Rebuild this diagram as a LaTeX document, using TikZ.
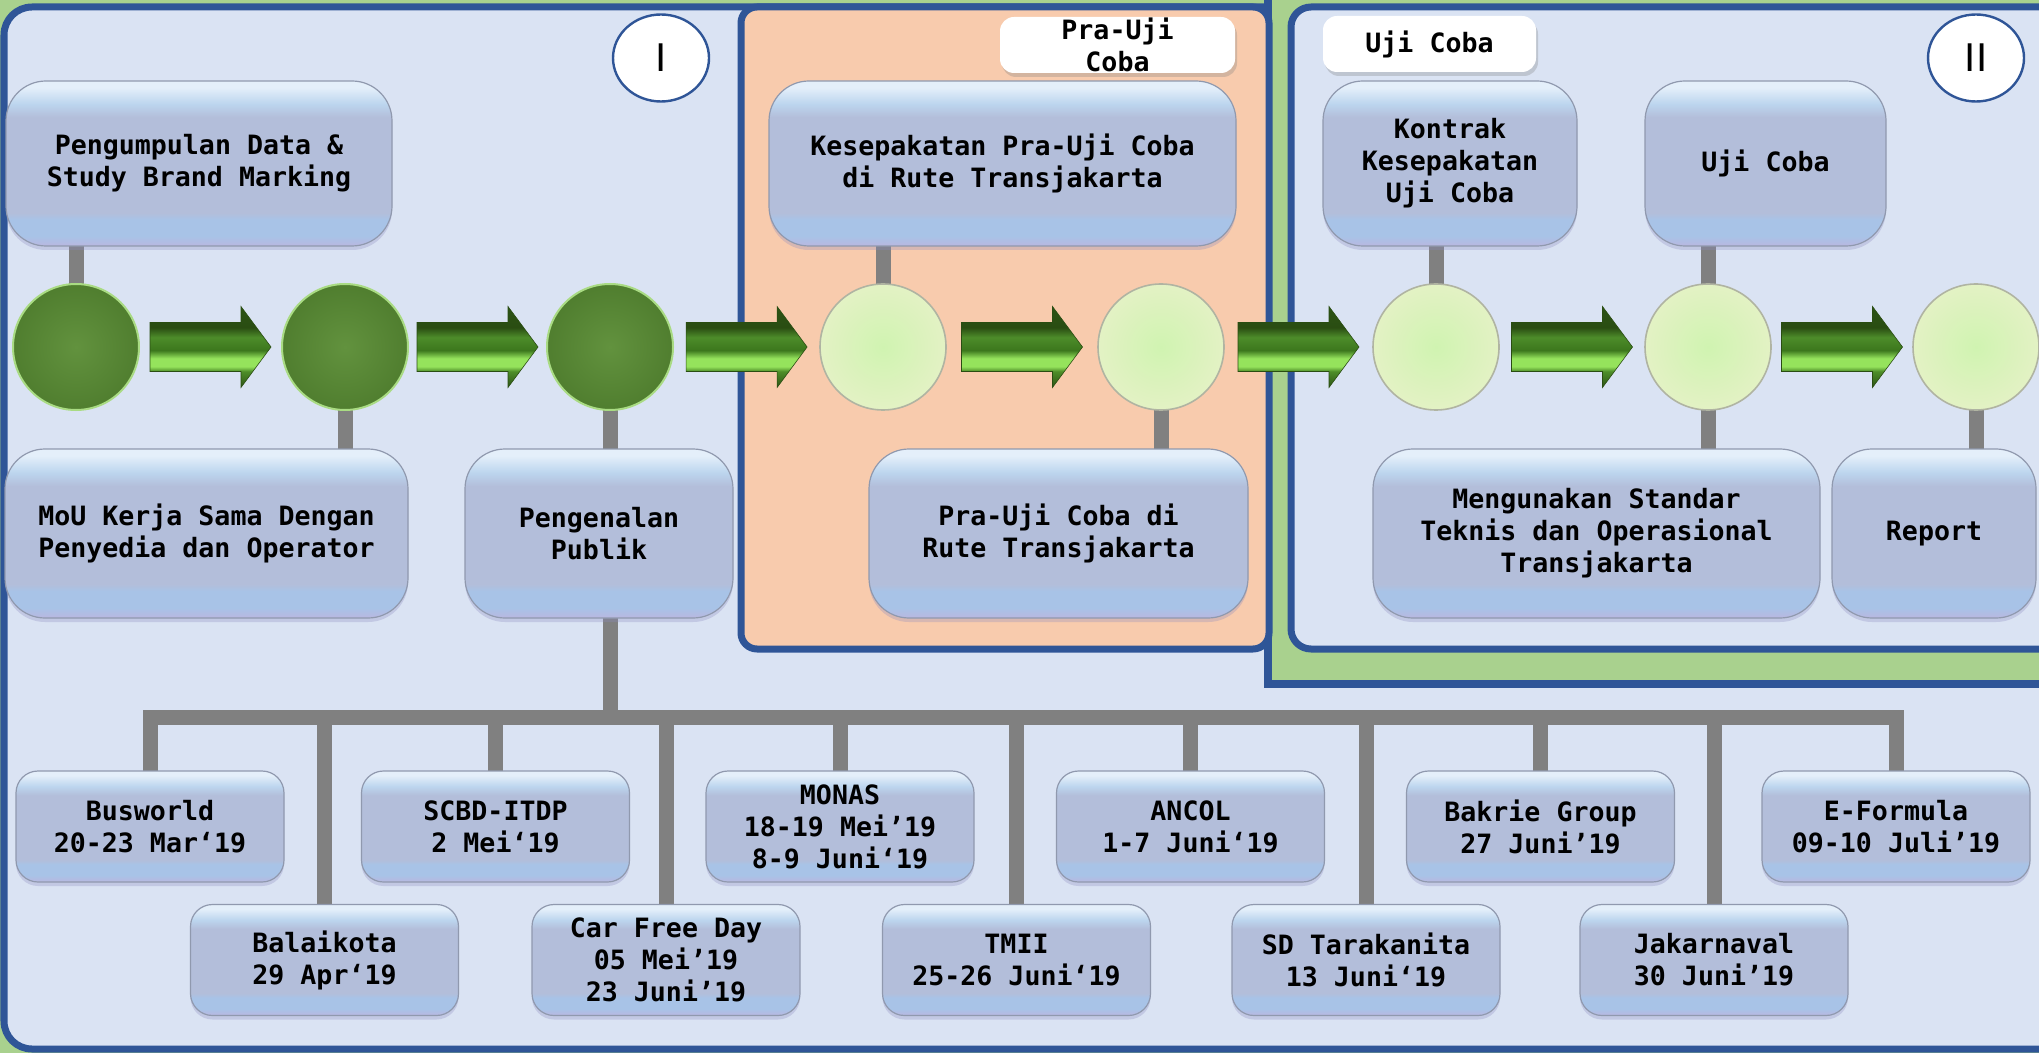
\documentclass[tikz,border=0pt]{standalone}
\usepackage{fontspec}
\usetikzlibrary{shapes.geometric,calc,shadows}
\newfontfamily\boxfont{DejaVu Sans Mono}
\newfontfamily\romfont{DejaVu Sans}
\newcommand\bxtxt{\boxfont\bfseries\fontsize{13.3}{16}\selectfont}
\definecolor{bgreen}{HTML}{A9D18E}
\definecolor{pblue}{HTML}{DAE3F3}
\definecolor{pborder}{HTML}{2F5597}
\definecolor{porange}{HTML}{F8CBAD}
\definecolor{connc}{HTML}{808080}
\definecolor{gedge}{HTML}{9099AE}
\definecolor{shadowc}{HTML}{8C8AC0}
\definecolor{gb0}{HTML}{E4EFFA}
\definecolor{gb1}{HTML}{BCD5EE}
\definecolor{gb2}{HTML}{B3BEDA}
\definecolor{gb3}{HTML}{A8C3E7}
\definecolor{gb4}{HTML}{B9B7E0}
\definecolor{ar0}{HTML}{2C5315}
\definecolor{ar1}{HTML}{4E8E29}
\definecolor{ar2}{HTML}{95E35C}
\definecolor{ar3}{HTML}{3C771D}
\definecolor{ar4}{HTML}{4D8C2A}
\definecolor{ar5}{HTML}{2A4D12}
\definecolor{dg1}{HTML}{62923E}
\definecolor{dg2}{HTML}{507E2F}
\definecolor{dgrim}{HTML}{A9DB83}
\definecolor{lg1}{HTML}{D0F3B1}
\definecolor{lg2}{HTML}{E3F2C4}
\definecolor{lgrim}{HTML}{B0B4A2}
\pgfdeclareverticalshading{glassbox}{100bp}{color(0bp)=(gb4); color(25bp)=(gb4); color(28bp)=(gb3); color(33bp)=(gb3); color(35bp)=(gb2); color(64bp)=(gb2); color(68bp)=(gb1); color(73bp)=(gb0); color(75bp)=(gb0); color(100bp)=(gb0)}
\pgfdeclareverticalshading{arrowsh}{100bp}{color(0bp)=(ar0); color(25bp)=(ar0); color(35bp)=(ar1); color(38bp)=(ar2); color(43bp)=(ar2); color(48bp)=(ar3); color(56bp)=(ar4); color(62bp)=(ar5); color(75bp)=(ar0); color(100bp)=(ar0)}
\pgfdeclarelayer{back}
\pgfsetlayers{back,main}
\tikzset{
  panel/.style={draw=pborder, line width=3.5pt},
  conn/.style={draw=connc, line width=7.5pt},
  gbox/.style={rectangle, rounded corners=20pt, shade, shading=glassbox, draw=gedge,
    line width=0.6pt, align=center, inner sep=0pt, font=\bxtxt, text=black,
    drop shadow={shadow xshift=0pt, shadow yshift=-2pt, opacity=0.3, fill=shadowc}},
  tallbox/.style={gbox, minimum height=82.5pt},
  evbox/.style={gbox, rounded corners=11pt, minimum width=134pt, minimum height=55.5pt},
  dcirc/.style={circle, minimum size=63pt, inner sep=0pt, inner color=dg1, outer color=dg2, draw=dgrim, line width=1pt},
  lcirc/.style={circle, minimum size=63pt, inner sep=0pt, inner color=lg1, outer color=lg2, draw=lgrim, line width=0.8pt},
  lbl/.style={rectangle, rounded corners=7pt, fill=white, align=center, inner sep=0pt, font=\bxtxt,
    minimum height=28pt, drop shadow={shadow xshift=1pt, shadow yshift=-2pt, opacity=0.3}},
  roman/.style={ellipse, draw=pborder, line width=1.2pt, fill=white, minimum width=48pt,
    minimum height=43.5pt, inner sep=0pt, font=\romfont\fontsize{19}{19}\selectfont},
  garrow/.pic={\path[shade, shading=arrowsh, draw=ar5, line width=0.3pt]
    (-30.25pt,-12.25pt) -- (15.25pt,-12.25pt) -- (15.25pt,-20.25pt) -- (30.25pt,0pt)
    -- (15.25pt,20.25pt) -- (15.25pt,12.25pt) -- (-30.25pt,12.25pt) -- cycle;}
}
\begin{document}
\begin{tikzpicture}[x=0.5pt,y=-0.5pt]
\useasboundingbox (0,0) rectangle (2039,1053);

% section labels
\node[roman] (r1) at (661,58) {I};
\node[roman] (r2) at (1976,58) {II};
\node[lbl, minimum width=117.5pt] (lb1) at (1117.5,45) {Pra-Uji\\Coba};
\node[lbl, minimum width=106.5pt] (lb2) at (1429.5,44) {Uji Coba};

% milestones
\node[dcirc] (c1) at (76,347) {};
\node[dcirc] (c2) at (345,347) {};
\node[dcirc] (c3) at (610,347) {};
\node[lcirc] (c4) at (883,347) {};
\node[lcirc] (c5) at (1161,347) {};
\node[lcirc] (c6) at (1436,347) {};
\node[lcirc] (c7) at (1708,347) {};
\node[lcirc] (c8) at (1976,347) {};

% upper boxes
\node[tallbox, minimum width=193pt] (pb) at (199,163.5) {Pengumpulan Data \&\\Study Brand Marking};
\node[tallbox, minimum width=233.5pt] (kb) at (1002.5,163.5) {Kesepakatan Pra-Uji Coba\\di Rute Transjakarta};
\node[tallbox, minimum width=127pt] (kt) at (1450,163.5) {Kontrak\\Kesepakatan\\Uji Coba};
\node[tallbox, minimum width=120.5pt] (uc) at (1765.5,163.5) {Uji Coba};

% lower boxes
\node[tallbox, minimum width=201.5pt, minimum height=84.5pt] (mou) at (206.5,533.5) {MoU Kerja Sama Dengan\\Penyedia dan Operator};
\node[tallbox, minimum width=134pt, minimum height=84.5pt] (pp) at (599,533.5) {Pengenalan\\Publik};
\node[tallbox, minimum width=189.5pt, minimum height=84.5pt] (pu) at (1058.5,533.5) {Pra-Uji Coba di\\Rute Transjakarta};
\node[tallbox, minimum width=223.5pt, minimum height=84.5pt] (mg) at (1596.5,533.5) {Mengunakan Standar\\Teknis dan Operasional\\Transjakarta};
\node[tallbox, minimum width=102pt, minimum height=84.5pt] (rp) at (1934,533.5) {Report};

% events
\node[evbox] (bw) at (150,826.5) {Busworld\\20-23 Mar‘19};
\node[evbox] (scbd) at (495.5,826.5) {SCBD-ITDP\\2 Mei‘19};
\node[evbox] (monas) at (840,826.5) {MONAS\\18-19 Mei’19\\8-9 Juni‘19};
\node[evbox] (ancol) at (1190.5,826.5) {ANCOL\\1-7 Juni‘19};
\node[evbox] (bakrie) at (1540.5,826.5) {Bakrie Group\\27 Juni’19};
\node[evbox] (ef) at (1896,826.5) {E-Formula\\09-10 Juli’19};
\node[evbox] (bk) at (324.5,960) {Balaikota\\29 Apr‘19};
\node[evbox] (cfd) at (666,960) {Car Free Day\\05 Mei’19\\23 Juni’19};
\node[evbox] (tmii) at (1016.5,960) {TMII\\25-26 Juni‘19};
\node[evbox] (sdt) at (1366,960) {SD Tarakanita\\13 Juni‘19};
\node[evbox] (jk) at (1714,960) {Jakarnaval\\30 Juni’19};

% block arrows between milestones
\pic at ($(c1.east)!0.5!(c2.west)$) {garrow};
\pic at ($(c2.east)!0.5!(c3.west)$) {garrow};
\pic at ($(c3.east)!0.5!(c4.west)$) {garrow};
\pic at ($(c4.east)!0.5!(c5.west)$) {garrow};
\pic at ($(c5.east)!0.5!(c6.west)$) {garrow};
\pic at ($(c6.east)!0.5!(c7.west)$) {garrow};
\pic at ($(c7.east)!0.5!(c8.west)$) {garrow};

\begin{pgfonlayer}{back}
  \fill[bgreen] (0,0) rectangle (2039,1053);
  \draw[panel, fill=pblue, rounded corners=14pt] (4,7) rectangle (2100,1049);
  \draw[draw=pborder, line width=4pt, fill=bgreen] (1268,-40) rectangle (2100,684);
  \draw[panel, fill=porange, rounded corners=8pt] (741,7) rectangle (1269,649);
  \draw[panel, fill=pblue, rounded corners=10pt] (1291,7) rectangle (2100,649);

  % vertical connectors
  \draw[conn] (c1.center) -- (c1.center |- pb.center);
  \draw[conn] (c2.center) -- (c2.center |- mou.center);
  \draw[conn] (c3.center) -- (c3.center |- pp.center);
  \draw[conn] (c4.center) -- (c4.center |- kb.center);
  \draw[conn] (c5.center) -- (c5.center |- pu.center);
  \draw[conn] (c6.center) -- (c6.center |- kt.center);
  \draw[conn] (c7.center) -- (c7.center |- uc.center);
  \draw[conn] (c7.center) -- (c7.center |- mg.center);
  \draw[conn] (c8.center) -- (c8.center |- rp.center);

  % event tree
  \coordinate (bar) at (0,717.5);
  \draw[conn] (c3.center |- pp.center) -- (c3.center |- bar);
  \draw[conn] (bw.center) -- (bw.center |- bar) -- (ef.center |- bar) -- (ef.center);
  \foreach \ev in {bk,scbd,cfd,monas,tmii,ancol,sdt,bakrie,jk}
    \draw[conn] (\ev.center) -- (\ev.center |- bar);
\end{pgfonlayer}
\end{tikzpicture}
\end{document}
